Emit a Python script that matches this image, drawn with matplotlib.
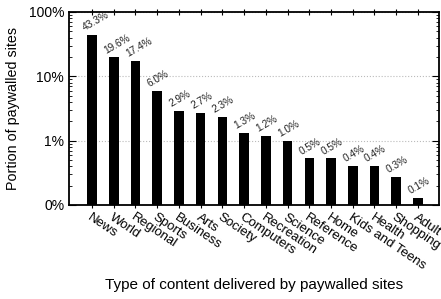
import matplotlib
matplotlib.use("Agg")
import matplotlib.pyplot as plt
from matplotlib.ticker import LogLocator, FixedLocator, NullFormatter

plt.rcParams['font.family'] = ['Liberation Sans', 'DejaVu Sans']

categories = ["News", "World", "Regional", "Sports", "Business", "Arts", "Society",
              "Computers", "Recreation", "Science", "Reference", "Home",
              "Kids and Teens", "Health", "Shopping", "Adult"]
values = [43.3, 19.6, 17.4, 6.0, 2.9, 2.7, 2.3, 1.3, 1.2, 1.0, 0.53, 0.53, 0.4, 0.4, 0.27, 0.13]
ytick_vals = [0.1, 1, 10, 100]
ytick_labels = ["0%", "1%", "10%", "100%"]

fig = plt.figure(figsize=(4.41, 2.99), dpi=100)
ax = fig.add_axes([0.1565, 0.3144, 0.839, 0.6456])

x = list(range(len(categories)))
ax.bar(x, values, width=0.44, color='black', zorder=3)
ax.set_yscale('log')
ax.set_ylim(0.1, 100)
ax.set_xlim(-1.06, 15.97)

ax.yaxis.set_major_locator(FixedLocator(ytick_vals))
ax.set_yticklabels(ytick_labels, fontsize=10)
ax.yaxis.set_minor_locator(LogLocator(base=10, subs=range(2, 10)))
ax.yaxis.set_minor_formatter(NullFormatter())
ax.grid(axis='y', which='major', color='#bbbbbb', linestyle=':', linewidth=0.8, zorder=0)

ax.set_xticks(x)
ax.set_xticklabels(categories, rotation=-34, ha='left', va='top',
                   rotation_mode='anchor', fontsize=9.5)
ax.tick_params(axis='y', which='both', direction='in', right=True, left=True)
ax.tick_params(axis='y', which='major', length=5)
ax.tick_params(axis='y', which='minor', length=2.5)
ax.tick_params(axis='x', which='major', direction='inout', top=True, length=5, pad=2)

for s in ax.spines.values():
    s.set_linewidth(1.3)

for i, v in enumerate(values):
    ax.text(i - 0.3, v * 1.08, f"{v:.1f}%", rotation=30, ha='left', va='bottom',
            rotation_mode='anchor', fontsize=7.3, color='#222222')

ax.set_ylabel("Portion of paywalled sites", fontsize=10.3, labelpad=6)
fig.text(0.576, 0.047, "Type of content delivered by paywalled sites", ha='center',
         va='center', fontsize=11)

fig.savefig("out.png", dpi=100)
